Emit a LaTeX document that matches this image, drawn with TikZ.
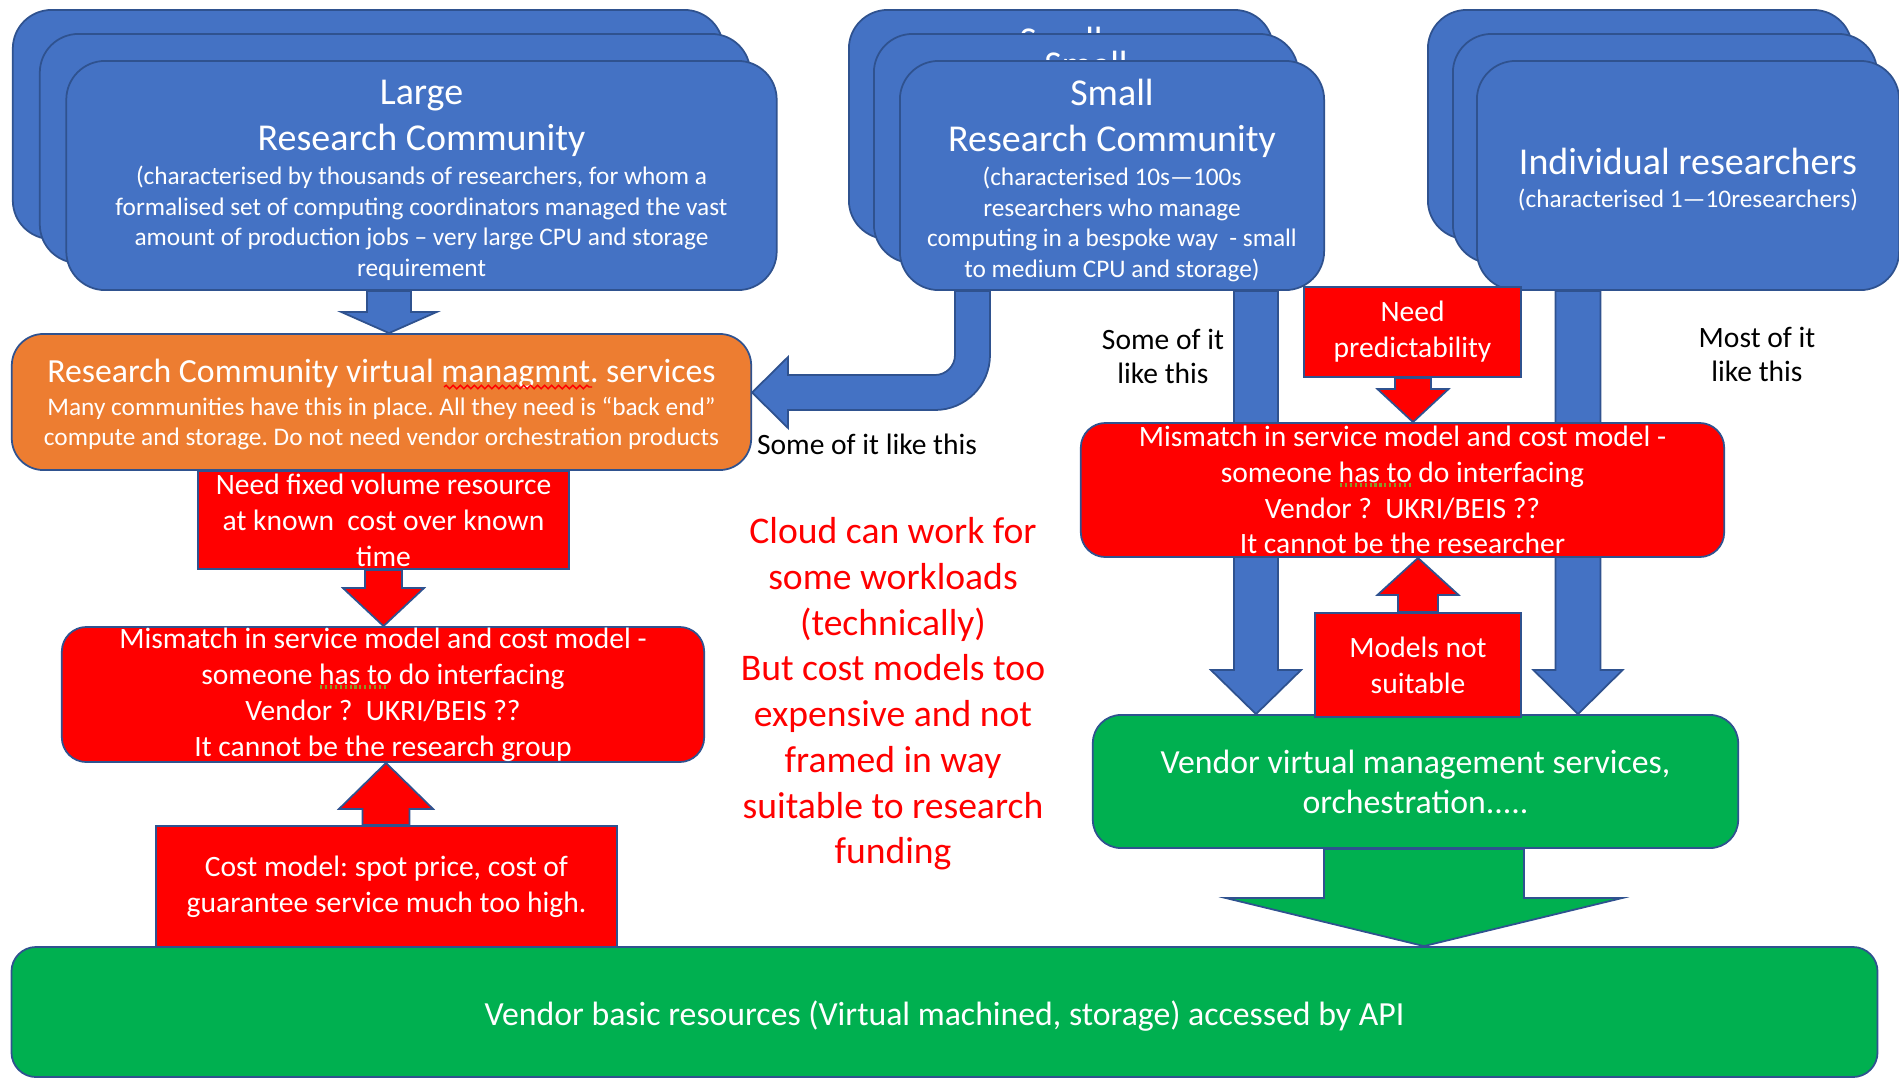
\documentclass[tikz,border=0pt]{standalone}
\usepackage{fontspec}
\setmainfont{Carlito}
\usetikzlibrary{calc,decorations.pathmorphing}
\frenchspacing
\definecolor{bluefill}{HTML}{4472C4}
\definecolor{blueline}{HTML}{2F528F}
\definecolor{orangefill}{HTML}{ED7D31}
\definecolor{redfill}{HTML}{FF0000}
\definecolor{greenfill}{HTML}{00B050}
\definecolor{spellgreen}{HTML}{8A9A2A}
\newcommand{\ttlsz}{\fontsize{10.8}{13}\selectfont}
\newcommand{\subsz}{\fontsize{7.2}{8.7}\selectfont}
\newcommand{\boxsz}{\fontsize{8.4}{10.2}\selectfont}
\newcommand{\midsz}{\fontsize{9.6}{11.4}\selectfont}
\newcommand{\notesz}{\fontsize{8.4}{9.7}\selectfont}
\newcommand{\cloudsz}{\fontsize{10.7}{13}\selectfont}
% block arrow going up or down: style, x, from, to, half shaft, half head, head length
\newcommand{\vblk}[7]{%
  \draw[#1] ($(#2,0 |- #3)+(-#5,0)$) -- ($(#2,0 |- #4)+(-#5,#7)$)
    -- ($(#2,0 |- #4)+(-#6,#7)$) -- (#2,0 |- #4)
    -- ($(#2,0 |- #4)+(#6,#7)$) -- ($(#2,0 |- #4)+(#5,#7)$)
    -- ($(#2,0 |- #3)+(#5,0)$) -- cycle;}
\begin{document}
\begin{tikzpicture}[x=0.01cm,y=-0.01cm,
  outl/.style={draw=blueline,line width=0.5pt},
  stackbox/.style={outl,fill=bluefill,rectangle,rounded corners=11pt,minimum height=2.29cm,inner sep=0pt},
  boxtext/.style={inner sep=0pt,text=white,align=flush center},
  redbox/.style={outl,fill=redfill,rectangle,inner sep=0pt,text=white,align=center,font=\boxsz},
  greenbox/.style={outl,fill=greenfill,rectangle,rounded corners=8pt,inner sep=0pt,text=white,align=center,font=\midsz},
  bluearrow/.style={outl,fill=bluefill},
  redarrow/.style={outl,fill=redfill},
  greenarrow/.style={outl,fill=greenfill},
  note/.style={align=center,font=\notesz},
  spellred/.style={draw=red,line width=0.4pt,decorate,decoration={snake,amplitude=0.5pt,segment length=2pt}},
  spellgrn/.style={draw=spellgreen,line width=1.2pt,dash pattern=on 0.6pt off 0.8pt}]
\useasboundingbox (0,0) rectangle (1899,1078);

% large community
\node[stackbox,minimum width=7.1cm] (large1) at (368,124.5) {};
\node[stackbox,minimum width=7.1cm] (large2) at (395,148.5) {};
\node[stackbox,minimum width=7.1cm] (large3) at (421.5,175.5) {};
\node[boxtext,text width=7cm] (largetxt) at ($(large3.center)+(0,5)$) {{\ttlsz Large\\Research Community\par}\vspace{0.95pt}{\subsz (characterised by thousands of researchers, for whom a\\formalised set of computing coordinators managed the vast\\amount of production jobs -- very large CPU and storage\\requirement\par}};

% small community
\node[stackbox,minimum width=4.24cm] (small1) at (1061,124.5) {};
\node[font=\ttlsz,text=white,anchor=base] (peek1) at (1061,53) {Small};
\node[stackbox,minimum width=4.24cm] (small2) at (1086,148.5) {};
\node[font=\ttlsz,text=white,anchor=base] (peek2) at (1086,77) {Small};
\node[stackbox,minimum width=4.24cm] (small3) at (1112,175.5) {};
\node[boxtext,text width=4.1cm] (smalltxt) at ($(small3.center)+(0,5)$) {{\ttlsz Small\\Research Community\par}\vspace{0.95pt}{\subsz (characterised 10s—100s\\researchers who manage\\computing in a bespoke way~ - small\\to medium CPU and storage)\par}};

% individuals
\node[stackbox,minimum width=4.24cm] (indiv1) at (1640,124.5) {};
\node[stackbox,minimum width=4.24cm] (indiv2) at (1665,148.5) {};
\node[stackbox,minimum width=4.22cm] (indiv3) at (1688,175.5) {};
\node[boxtext,text width=4.1cm] (indivtxt) at ($(indiv3.center)+(0,4)$) {{\ttlsz Individual researchers\par}\vspace{0.55pt}{\subsz (characterised 1—10researchers)\par}};

% vendor side
\node[greenbox,rounded corners=7pt,minimum width=18.65cm,minimum height=1.30cm] (vendorbase) at (944.5,1012) {};
\node[boxtext,font=\midsz] (basetxt) at ($(vendorbase.center)+(0,4)$) {Vendor basic resources (Virtual machined, storage) accessed by API};
\node[greenbox,minimum width=6.45cm,minimum height=1.33cm] (vendormgmt) at (1415.5,781.5) {Vendor virtual management services,\\orchestration.....};

\vblk{bluearrow}{1256}{small3.south}{vendormgmt.north}{22}{45}{-44}
\vblk{bluearrow}{1578}{indiv3.south}{vendormgmt.north}{22.5}{44.5}{-44}

\node[redbox,rounded corners=7pt,minimum width=6.43cm,minimum height=1.34cm] (mismatchR) at (1402.5,490) {Mismatch in service model and cost model -\\someone has to do interfacing\\Vendor ?~ UKRI/BEIS ??\\It cannot be the researcher};
\node[redbox,minimum width=2.17cm,minimum height=0.90cm] (predict) at (1412.5,332) {Need\\predictability};
\node[redbox,minimum width=2.06cm,minimum height=1.04cm] (unsuit) at (1418,665) {Models not\\suitable};

% research community side
\node[outl,fill=orangefill,rectangle,rounded corners=9pt,minimum width=7.39cm,minimum height=1.36cm,inner sep=0pt] (mgmt) at (381.5,402) {};
\node[boxtext,text width=7.35cm] (mgmttxt) at ($(mgmt.center)+(0,2.5)$) {{\midsz Research Community virtual managmnt. services\par}\vspace{0.6pt}{\subsz Many communities have this in place. All they need is “back end”\\compute and storage. Do not need vendor orchestration products\par}};
\node[redbox,minimum width=3.71cm,minimum height=0.98cm] (fixedres) at (383.5,520) {Need fixed volume resource\\at known~ cost over known\\time};
\node[redbox,rounded corners=7pt,minimum width=6.42cm,minimum height=1.35cm] (mismatchL) at (383,694.5) {Mismatch in service model and cost model -\\someone has to do interfacing\\Vendor ?~ UKRI/BEIS ??\\It cannot be the research group};
\node[redbox,minimum width=4.61cm,minimum height=1.21cm] (costmod) at (386.5,886.5) {Cost model: spot price, cost of\\guarantee service much too high.};

% spelling marks
\draw[spellred] (444,387) -- (592,387);
\draw[spellgrn] (320,687) -- (388,687);
\draw[spellgrn] (1340,485) -- (1411,485);

% labels
\node[note] (someL) at (867,444) {Some of it like this};
\node[note] (someR) at (1163,356) {Some of it\\like this};
\node[note] (mostR) at (1757,354) {Most of it\\like this};
\node[align=center,text=redfill,font=\cloudsz] (cloudnote) at (893,694) {Cloud can work for\\some workloads\\(technically)\\But cost models too\\expensive and not\\framed in way\\suitable to research\\funding};

% arrows
\vblk{bluearrow}{389}{large3.south}{mgmt.north}{22}{47.5}{-21}
\draw[bluearrow] (955,0 |- small3.south) -- (990,0 |- small3.south) -- (990,355) .. controls (990,385.4) and (965.4,410) .. (935,410) -- (788,410) -- (788,428) -- (mgmt.east |- 0,392.5) -- (788,357) -- (788,375) -- (935,375) .. controls (946,375) and (955,366) .. (955,355) -- cycle;
\vblk{redarrow}{1413}{predict.south}{mismatchR.north}{18}{35.5}{-33}
\vblk{redarrow}{1418}{unsuit.north}{mismatchR.south}{20}{40.5}{37}
\vblk{redarrow}{383.5}{fixedres.south}{mismatchL.north}{18.5}{40.5}{-38}
\vblk{redarrow}{386}{costmod.north}{mismatchL.south}{23.5}{47}{46}
\vblk{greenarrow}{1424}{vendormgmt.south}{vendorbase.north}{100}{198}{-48}
\end{tikzpicture}
\end{document}
